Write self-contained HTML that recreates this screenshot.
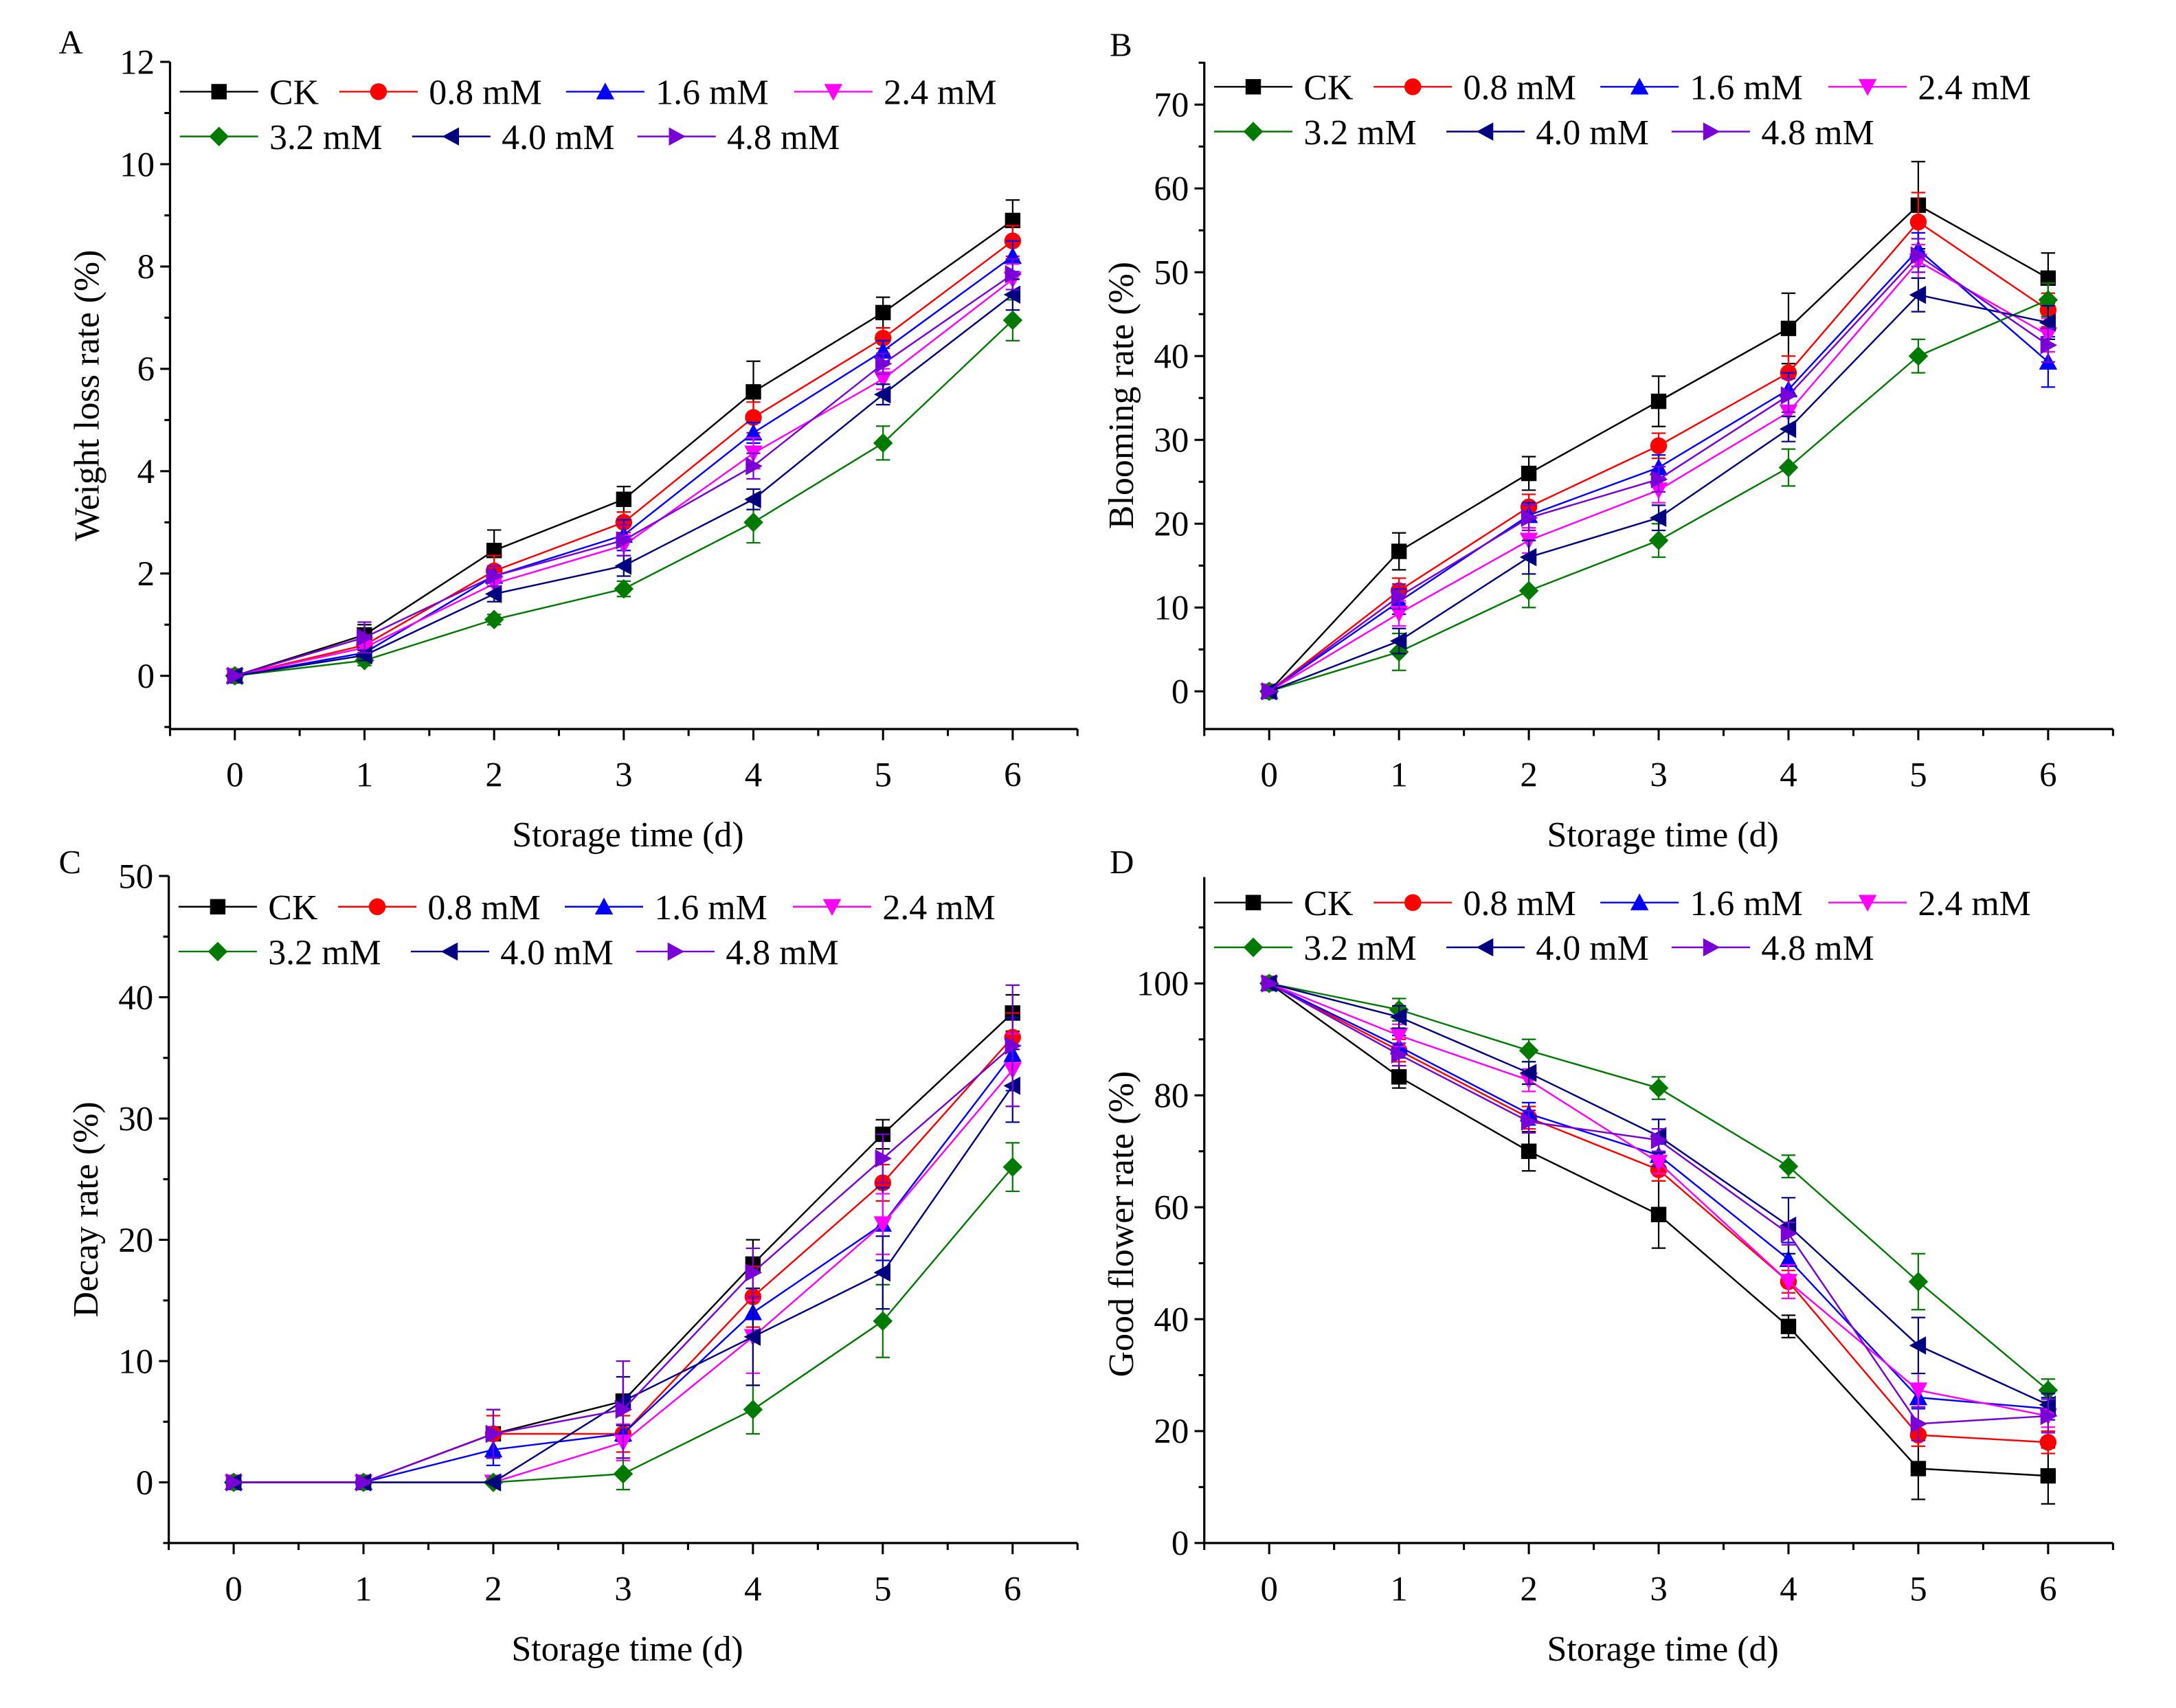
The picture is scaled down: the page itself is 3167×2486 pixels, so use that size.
<!DOCTYPE html>
<html><head><meta charset="utf-8"><style>
html,body{margin:0;padding:0;background:#fff;}
svg{display:block;}
text{font-family:"Liberation Serif",serif;fill:#000;}
</style></head><body>
<svg id="s" width="3167" height="2486" viewBox="0 0 1555 1220.6" xmlns="http://www.w3.org/2000/svg"></svg>
<script>
const S=document.getElementById('s');let h='';
const cols=['#000000','#ff0000','#0000ff','#ff00ff','#007a00','#000080','#7a00d8'];
const names=['CK','0.8 mM','1.6 mM','2.4 mM','3.2 mM','4.0 mM','4.8 mM'];
function mk(t,x,y,c){const r=5.5;
 switch(t){
 case 0:return `<rect x="${x-r}" y="${y-r}" width="${2*r}" height="${2*r}" fill="${c}"/>`;
 case 1:return `<circle cx="${x}" cy="${y}" r="${r+0.5}" fill="${c}"/>`;
 case 2:return `<polygon points="${x},${y-r-1} ${x+r+1},${y+r} ${x-r-1},${y+r}" fill="${c}"/>`;
 case 3:return `<polygon points="${x},${y+r+1} ${x+r+1},${y-r} ${x-r-1},${y-r}" fill="${c}"/>`;
 case 4:return `<polygon points="${x},${y-r-1.5} ${x+r+1.5},${y} ${x},${y+r+1.5} ${x-r-1.5},${y}" fill="${c}"/>`;
 case 5:return `<polygon points="${x-r-1},${y} ${x+r},${y-r-1} ${x+r},${y+r+1}" fill="${c}"/>`;
 case 6:return `<polygon points="${x+r+1},${y} ${x-r},${y-r-1} ${x-r},${y+r+1}" fill="${c}"/>`;}}
function panel(o){
 const {x0,x1,yb,yt,vmin,vmax,ticks,minor,data,err,letter,lx,ly,ytitle,legY}=o;
 const X=d=>x0+(d+0.5)*(x1-x0)/7, Y=v=>yb-(v-vmin)*(yb-yt)/(vmax-vmin);
 h+=`<line x1="${x0}" y1="${yt}" x2="${x0}" y2="${yb}" stroke="#000" stroke-width="1.6"/>`;
 h+=`<line x1="${x0}" y1="${yb}" x2="${x1}" y2="${yb}" stroke="#000" stroke-width="1.6"/>`;
 ticks.forEach(v=>{const y=Y(v);h+=`<line x1="${x0-7}" y1="${y}" x2="${x0}" y2="${y}" stroke="#000" stroke-width="1.5"/><text x="${x0-11}" y="${y+8.5}" font-size="25" text-anchor="end">${v}</text>`;});
 minor.forEach(v=>{const y=Y(v);h+=`<line x1="${x0-4}" y1="${y}" x2="${x0}" y2="${y}" stroke="#000" stroke-width="1.5"/>`;});
 for(let d=-0.5;d<=6.51;d+=0.5){const x=X(d);const maj=Number.isInteger(d);
  h+=`<line x1="${x}" y1="${yb}" x2="${x}" y2="${yb+(maj?8:5)}" stroke="#000" stroke-width="1.5"/>`;
  if(maj)h+=`<text x="${x}" y="${yb+41}" font-size="25" text-anchor="middle">${d}</text>`;}
 h+=`<text x="${(x0+x1)/2+3}" y="${yb+84}" font-size="25.5" text-anchor="middle">Storage time (d)</text>`;
 h+=`<text transform="translate(${x0-51},${(yt+yb)/2+(o.ytoff||0)}) rotate(-90)" font-size="25.5" text-anchor="middle">${ytitle}</text>`;
 h+=`<text x="${lx}" y="${ly}" font-size="24">${letter}</text>`;
 data.forEach((s,i)=>{const c=cols[i];
  h+=`<polyline points="${s.map((v,d)=>X(d)+','+Y(v)).join(' ')}" fill="none" stroke="${c}" stroke-width="1.2"/>`;
  s.forEach((v,d)=>{const e=err[i][d];if(e>0){const x=X(d),y1=Y(v+e),y2=Y(v-e);
   h+=`<path d="M${x},${y1}V${y2}M${x-5},${y1}H${x+5}M${x-5},${y2}H${x+5}" stroke="${c}" stroke-width="1.1" fill="none"/>`;}});
  s.forEach((v,d)=>{h+=mk(i,X(d),Y(v),c);});});
 const mx=[[x0+35,x0+149,x0+311,x0+474],[x0+35,x0+201,x0+362]];
 let k=0;
 mx.forEach((row,ri)=>row.forEach(m=>{const y=legY[ri],c=cols[k];
  h+=`<line x1="${m-28}" y1="${y}" x2="${m+28}" y2="${y}" stroke="${c}" stroke-width="1.2"/>`+mk(k,m,y,c)+`<text x="${m+36}" y="${y+9}" font-size="25.5">${names[k]}</text>`;k++;}));
}
panel({x0:121.5,x1:770,yb:521,yt:44.2,vmin:-1.04,vmax:12,ticks:[0,2,4,6,8,10,12],minor:[-1,1,3,5,7,9,11],
 data:[[0,0.8,2.45,3.45,5.55,7.1,8.9],[0,0.6,2.05,3.0,5.05,6.6,8.5],[0,0.45,1.95,2.75,4.75,6.35,8.2],[0,0.55,1.8,2.55,4.35,5.8,7.75],[0,0.3,1.1,1.7,3.0,4.55,6.95],[0,0.4,1.6,2.15,3.45,5.5,7.45],[0,0.75,1.95,2.65,4.1,6.1,7.85]],
 err:[[0,0.2,0.4,0.25,0.6,0.3,0.4],[0,0.15,0.3,0.2,0.3,0.2,0.3],[0,0.1,0.2,0.3,0.2,0.2,0.3],[0,0.1,0.2,0.2,0.3,0.2,0.3],[0,0.1,0.1,0.15,0.4,0.33,0.4],[0,0.1,0.15,0.2,0.2,0.2,0.3],[0,0.3,0.2,0.3,0.25,0.2,0.3]],
 letter:'A',lx:42,ly:38,ytitle:'Weight loss rate (%)',legY:[65.5,97.5]});
panel({x0:860.6,x1:1510,yb:521,yt:44.2,vmin:-4.5,vmax:75.1,ticks:[0,10,20,30,40,50,60,70],minor:[-5,5,15,25,35,45,55,65,75].filter(v=>v>=-4.5&&v<=75.1),
 data:[[0,16.7,26,34.6,43.3,58,49.3],[0,12,22,29.3,38,56,45.5],[0,10.7,21,26.7,36,52.7,39.3],[0,9.3,18,24,33.3,51.3,42.5],[0,4.7,12,18,26.7,40,46.7],[0,6,16,20.7,31.3,47.3,44],[0,11.3,20.7,25.3,35.3,52,41.3]],
 err:[[0,2.2,2,3,4.2,5.2,3],[0,1.5,1.5,1.5,2,3.5,2],[0,1.5,1.5,1.5,2,2,3],[0,1.5,1.5,1.5,2,2,2],[0,2.2,2,2,2.2,2,2],[0,1.5,2,1.5,1.5,2,2],[0,1.5,1.5,1.5,2,2,2]],
 letter:'B',lx:793,ly:40,ytitle:'Blooming rate (%)',legY:[62,94]});
panel({x0:120.6,x1:770,yb:1102.7,yt:626,vmin:-5,vmax:50,ticks:[0,10,20,30,40,50],minor:[-5,5,15,25,35,45],
 data:[[0,0,4,6.7,18,28.7,38.7],[0,0,4,4,15.3,24.7,36.7],[0,0,2.7,4,14,21.3,35.3],[0,0,0,3.3,12,21.3,34],[0,0,0,0.7,6,13.3,26],[0,0,0,6.7,12,17.3,32.7],[0,0,4,6,17.3,26.7,36]],
 err:[[0,0,2,3.3,2,1.2,1.5],[0,0,1.5,1.5,2.5,1.5,2],[0,0,1.3,2,2,3,3],[0,0,0,1.5,3,2.5,3],[0,0,0,1.3,2,3,2],[0,0,0,2,4,3,3],[0,0,2,4,2,2,5]],
 letter:'C',lx:42,ly:624,ytitle:'Decay rate (%)',legY:[648,680]});
panel({x0:860.6,x1:1510,yb:1102.7,yt:626.8,vmin:0,vmax:119,ticks:[0,20,40,60,80,100],minor:[10,30,50,70,90,110],
 data:[[100,83.3,70,58.7,38.7,13.3,12],[100,88,76,66.7,46.7,19.3,18],[100,88.7,76.7,69.3,50.7,26,24],[100,90.7,82.7,68,46.7,27.3,22.7],[100,95.3,88,81.3,67.3,46.7,27.3],[100,94,84,72.7,56.7,35.3,24.7],[100,87.3,75.3,72,55.3,21.3,22.7]],
 err:[[0,2,3.5,6,2,5.5,5],[0,2,2,2,2,2,2],[0,2,2,2,3,2,2],[0,2,2,2,3,3,2],[0,2,2,2,2,5,2],[0,2,2,3,5,5,2],[0,2,2,2,2,3,3]],
 letter:'D',lx:793,ly:624,ytitle:'Good flower rate (%)',legY:[645,677],ytoff:10});
S.innerHTML=h;
</script>
</body></html>
